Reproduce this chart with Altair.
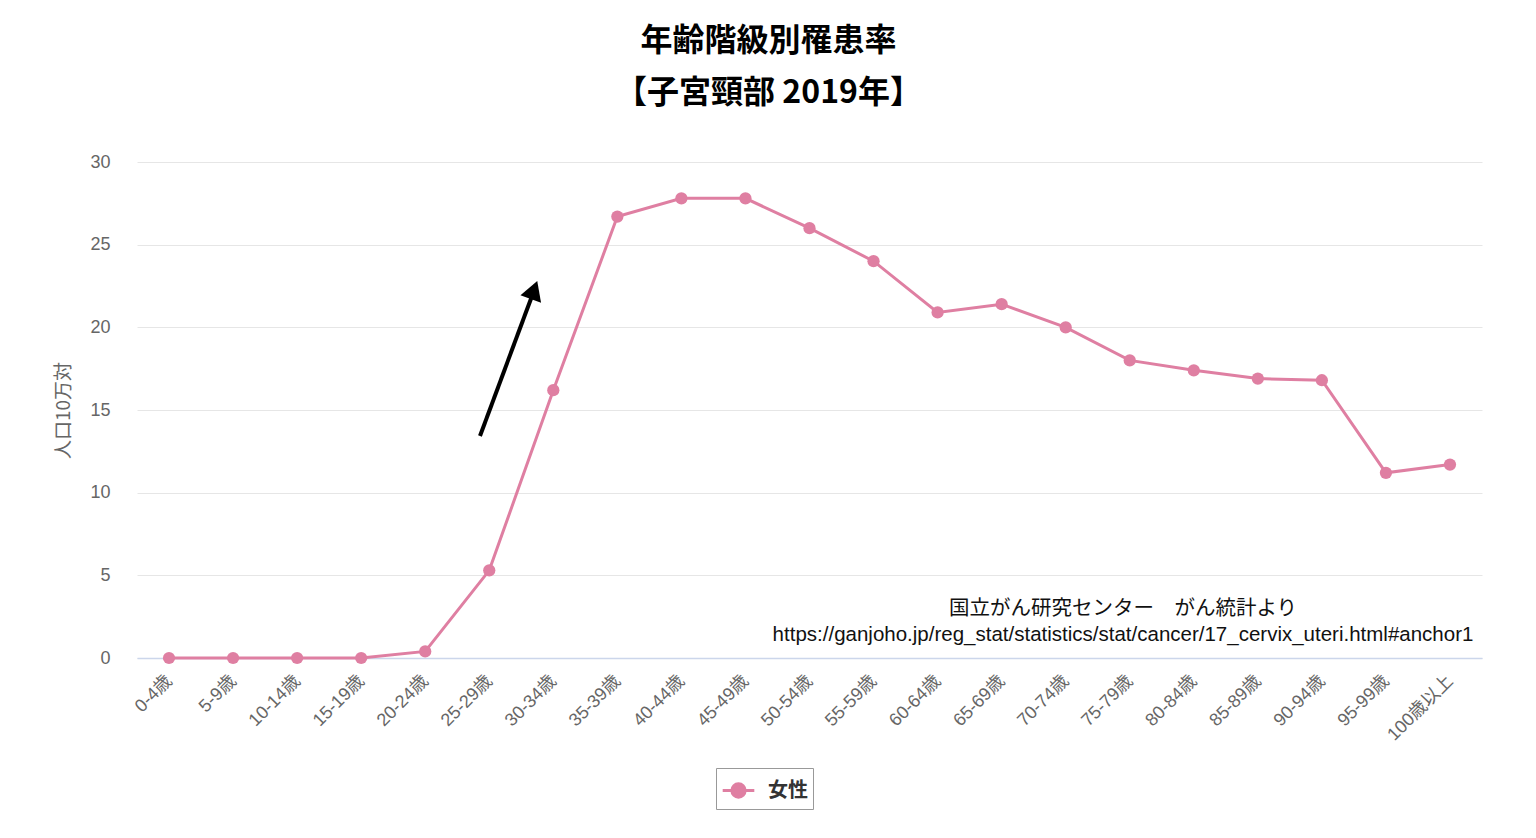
import altair as alt
import pandas as pd

ages = ["0-4歳", "5-9歳", "10-14歳", "15-19歳", "20-24歳", "25-29歳", "30-34歳",
        "35-39歳", "40-44歳", "45-49歳", "50-54歳", "55-59歳", "60-64歳", "65-69歳",
        "70-74歳", "75-79歳", "80-84歳", "85-89歳", "90-94歳", "95-99歳", "100歳以上"]
rates = [0.0, 0.0, 0.0, 0.0, 0.4, 5.3, 16.2, 26.7, 27.8, 27.8, 26.0, 24.0, 20.9,
         21.4, 20.0, 18.0, 17.4, 16.9, 16.8, 11.2, 11.7]
series_name = "女性"
y_ticks = [0, 5, 10, 15, 20, 25, 30]
title_lines = ["年齢階級別罹患率", "【子宮頸部 2019年】"]
source_lines = ["国立がん研究センター　がん統計より",
                "https://ganjoho.jp/reg_stat/statistics/stat/cancer/17_cervix_uteri.html#anchor1"]

PINK = "#df7fa2"
LABEL_FONT = "Liberation Sans, Noto Sans CJK JP"
CJK_FONT = "Noto Sans CJK JP"

df = pd.DataFrame({"age": ages, "rate": rates, "series": [series_name] * len(ages)})

W, H = 1345, 496

line = alt.Chart(df).mark_line(
    strokeWidth=3,
    point=alt.OverlayMarkDef(filled=True, size=150, opacity=1),
).encode(
    x=alt.X("age:N", sort=ages,
            scale=alt.Scale(type="point", padding=0.5),
            axis=alt.Axis(title=None, labelAngle=-45, labelAlign="right",
                          labelBaseline="middle",
                          labelFontSize=18, labelColor="#666666", labelFont=LABEL_FONT,
                          labelPadding=20, ticks=False, domainColor="#ccd6eb",
                          domainWidth=1.5, grid=False, labelOverlap=False)),
    y=alt.Y("rate:Q", scale=alt.Scale(domain=[0, 30], nice=False),
            axis=alt.Axis(title="人口10万対", values=y_ticks, labelFontSize=18,
                          labelColor="#666666", labelFont=LABEL_FONT, labelPadding=27,
                          ticks=False, domain=False, gridColor="#e6e6e6",
                          titleFontSize=19, titleColor="#666666", titleFont=CJK_FONT,
                          titleFontWeight="normal", titleAngle=-90,
                          titleX=-74, titleY=H / 2, titleAlign="center",
                          titleBaseline="middle")),
    color=alt.Color("series:N", scale=alt.Scale(range=[PINK]),
                    legend=alt.Legend(title=None, orient="none", legendX=579, legendY=606,
                                      strokeColor="#999999", padding=5,
                                      labelFontSize=20, labelFontWeight="bold",
                                      labelColor="#333333", labelFont=CJK_FONT,
                                      symbolType="M -1 0 L 1 0 M 0.42 0 A 0.42 0.42 0 1 1 -0.42 0 A 0.42 0.42 0 1 1 0.42 0",
                                      symbolSize=1000, symbolStrokeWidth=3,
                                      symbolFillColor=PINK, symbolStrokeColor=PINK,
                                      labelOffset=12)),
)

arrow_line = alt.Chart(pd.DataFrame({"k": [0]})).mark_rule(
    color="black", strokeWidth=4
).encode(x=alt.value(480 - 137), y=alt.value(436 - 162),
         x2=alt.value(532 - 137), y2=alt.value(296 - 162))

arrow_head = alt.Chart(pd.DataFrame({"k": [0]})).mark_point(
    shape="triangle-up", filled=True, color="black", size=480, opacity=1, angle=20
).encode(x=alt.value(534 - 137), y=alt.value(290 - 162))

src = alt.Chart(pd.DataFrame({"t": [source_lines[0]]})).mark_text(
    fontSize=20.5, font=LABEL_FONT, color="#111111", align="center",
    baseline="alphabetic"
).encode(text="t:N", x=alt.value(1123 - 137), y=alt.value(615 - 162))

src2 = alt.Chart(pd.DataFrame({"t": [source_lines[1]]})).mark_text(
    fontSize=20.5, font=LABEL_FONT, color="#111111", align="center",
    baseline="alphabetic"
).encode(text="t:N", x=alt.value(1123 - 137), y=alt.value(641 - 162))

chart = alt.layer(line, arrow_line, arrow_head, src, src2).properties(
    width=W, height=H,
    padding={"left": 137, "top": 162, "right": 54, "bottom": 180},
    autosize=alt.AutoSizeParams(type="none"),
    background="white",
    title=alt.TitleParams(text=title_lines, fontSize=32, font=CJK_FONT,
                          fontWeight="bold", color="#000000", anchor="middle",
                          dx=-41, offset=43, lineHeight=52),
).configure_view(stroke=None)

chart.save("out.html", embed_options={"renderer": "svg", "actions": False})
